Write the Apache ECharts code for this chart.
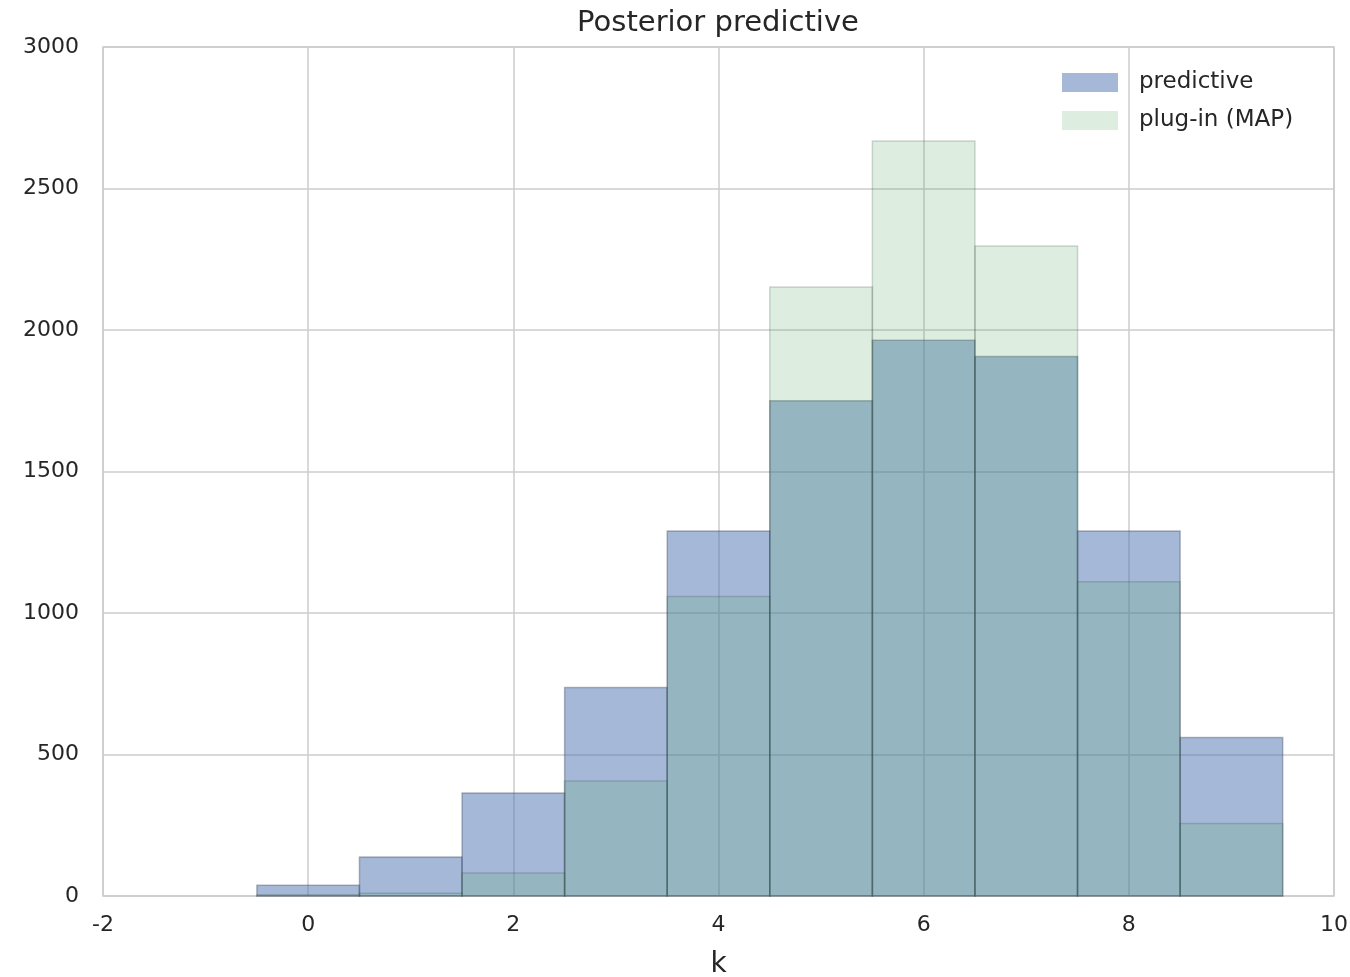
<!DOCTYPE html>
<html>
<head>
<meta charset="utf-8">
<script src="https://cdn.jsdelivr.net/npm/echarts@6/dist/echarts.min.js"></script>
<style>
html,body{margin:0;padding:0;background:#fff;}
#main{width:1350px;height:977px;}
</style>
</head>
<body>
<div id="main"></div>
<script>
const kValues = [0, 1, 2, 3, 4, 5, 6, 7, 8, 9];
const predictive = [38, 138, 364, 737, 1290, 1750, 1964, 1906, 1290, 560];
const plugin = [4, 10, 81, 406, 1058, 2152, 2668, 2297, 1110, 256];
const binWidth = 1;

const chart = echarts.init(document.getElementById('main'));
const textColor = '#262626';
const font = 'DejaVu Sans, Liberation Sans, sans-serif';

function makeRender(fill, stroke) {
  return function (params, api) {
    const x = api.value(0), y = api.value(1);
    const p0 = api.coord([x - binWidth / 2, 0]);
    const p1 = api.coord([x + binWidth / 2, y]);
    return {
      type: 'rect',
      shape: { x: p0[0], y: p1[1], width: p1[0] - p0[0], height: p0[1] - p1[1] },
      style: { fill: fill, stroke: stroke, lineWidth: 1.5 }
    };
  };
}

const predFill = 'rgba(76,114,176,0.5)';
const plugFill = 'rgba(85,168,104,0.2)';

chart.setOption({
  animation: false,
  backgroundColor: '#fff',
  title: {
    text: 'Posterior predictive',
    left: 718, top: 9, textAlign: 'center', padding: 0,
    textStyle: { fontFamily: font, fontSize: 29, fontWeight: 'normal', color: textColor }
  },
  legend: {
    orient: 'vertical',
    left: 1062, top: 71, padding: 0,
    itemWidth: 56, itemHeight: 19, itemGap: 15,
    icon: 'rect',
    textStyle: { fontFamily: font, fontSize: 23, color: textColor, padding: [3, 0, 0, 16], lineHeight: 19 },
    data: ['predictive', 'plug-in (MAP)']
  },
  grid: {
    left: 103, right: 16, top: 47, bottom: 81,
    outerBoundsMode: 'none', containLabel: false,
    show: true, borderColor: '#cccccc', borderWidth: 1.5
  },
  xAxis: {
    type: 'value', min: -2, max: 10, interval: 2,
    name: 'k', nameLocation: 'middle', nameGap: 55,
    nameTextStyle: { fontFamily: font, fontSize: 28, color: textColor },
    axisLine: { show: false }, axisTick: { show: false },
    axisLabel: { fontFamily: font, fontSize: 22, color: textColor, margin: 18 },
    splitLine: { show: true, lineStyle: { color: '#cccccc', width: 1.5 } }
  },
  yAxis: {
    type: 'value', min: 0, max: 3000, interval: 500,
    axisLine: { show: false }, axisTick: { show: false },
    axisLabel: { fontFamily: font, fontSize: 22, color: textColor, margin: 24, formatter: v => String(v) },
    splitLine: { show: true, lineStyle: { color: '#cccccc', width: 1.5 } }
  },
  series: [
    {
      name: 'predictive', type: 'custom',
      itemStyle: { color: predFill },
      renderItem: makeRender(predFill, 'rgba(50,60,80,0.35)'),
      encode: { x: 0, y: 1 },
      data: kValues.map((k, i) => [k, predictive[i]])
    },
    {
      name: 'plug-in (MAP)', type: 'custom',
      itemStyle: { color: plugFill },
      renderItem: makeRender(plugFill, 'rgba(40,60,50,0.2)'),
      encode: { x: 0, y: 1 },
      data: kValues.map((k, i) => [k, plugin[i]])
    }
  ]
});
</script>
</body>
</html>
